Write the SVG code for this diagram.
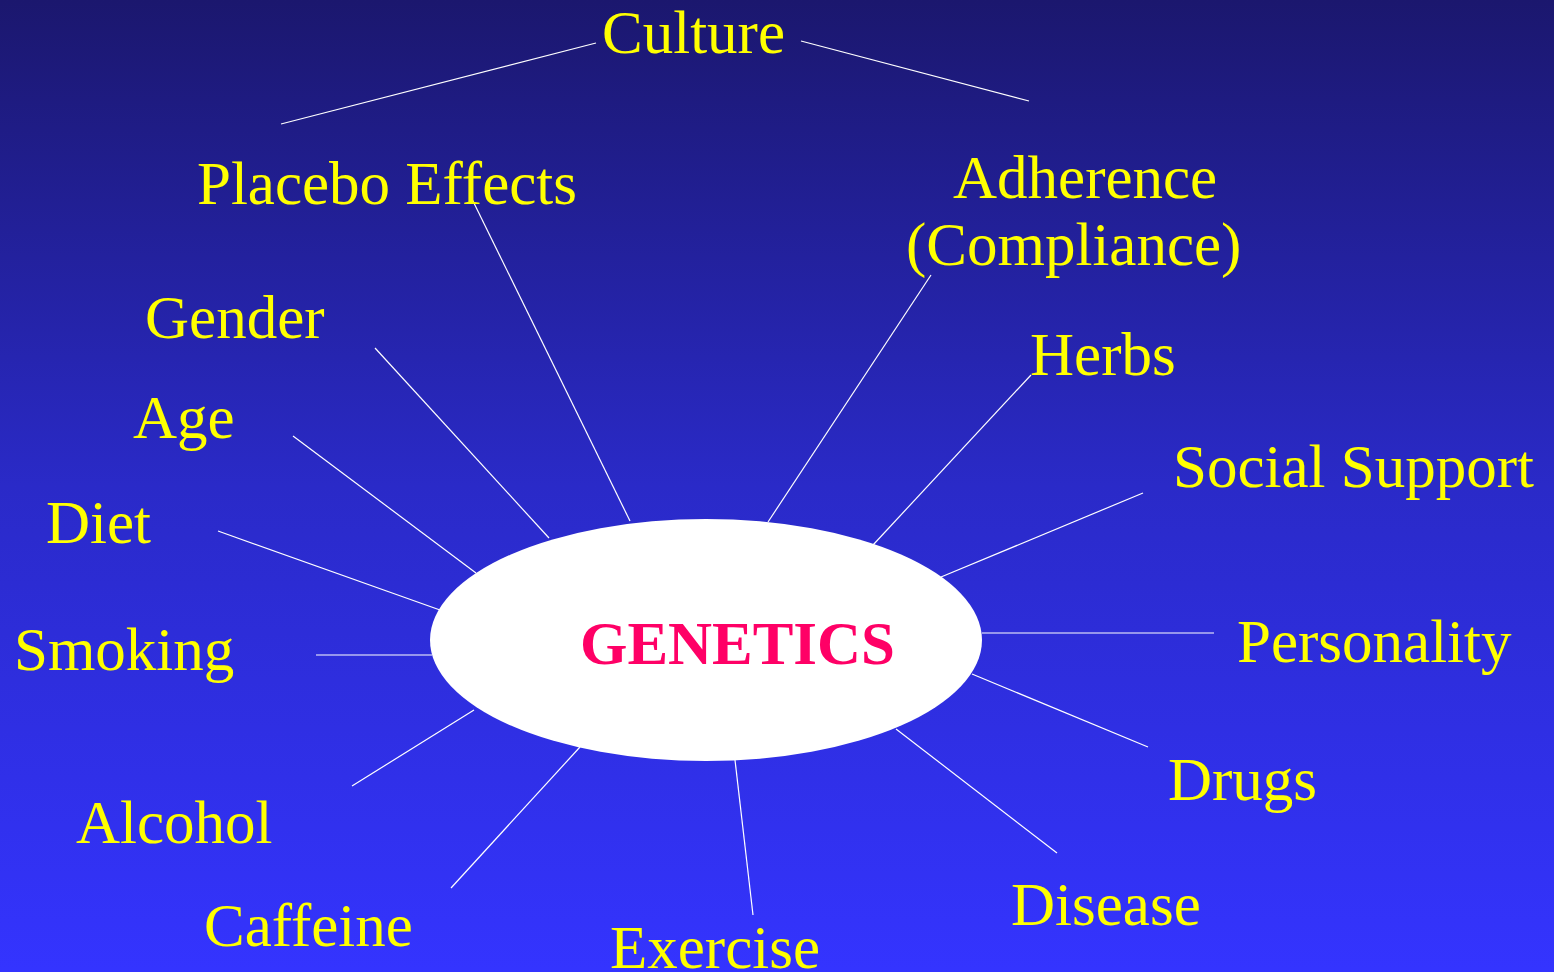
<svg xmlns="http://www.w3.org/2000/svg" width="1554" height="972" viewBox="0 0 1554 972">
<defs>
<linearGradient id="bg" x1="0" y1="0" x2="0" y2="1">
<stop offset="0" stop-color="#1b176e"/>
<stop offset="0.5" stop-color="#2a2ac8"/>
<stop offset="1" stop-color="#3434ff"/>
</linearGradient>
<style>
.lbl{font-family:"Liberation Serif","Times New Roman",serif;font-size:61px;fill:#ffff00}
.con{stroke:#ffffff;stroke-width:1.2;fill:none}
.ctr{font-family:"Liberation Serif","Times New Roman",serif;font-size:61px;font-weight:bold;fill:#ff0066}
</style>
</defs>
<rect x="0" y="0" width="1554" height="972" fill="url(#bg)"/>
<g id="connectors">
<line class="con" x1="281" y1="124" x2="596" y2="43"/>
<line class="con" x1="801" y1="41" x2="1029" y2="101"/>
<line class="con" x1="470" y1="195" x2="630" y2="521"/>
<line class="con" x1="931" y1="275" x2="768" y2="522"/>
<line class="con" x1="375" y1="348" x2="549" y2="538"/>
<line class="con" x1="1031" y1="375" x2="873" y2="545"/>
<line class="con" x1="293" y1="436" x2="476" y2="573"/>
<line class="con" x1="1143" y1="493" x2="941" y2="577"/>
<line class="con" x1="218" y1="531" x2="440" y2="610"/>
<line class="con" x1="982" y1="633" x2="1214" y2="633"/>
<line class="con" x1="316" y1="655" x2="432" y2="655"/>
<line class="con" x1="972" y1="674" x2="1148" y2="747"/>
<line class="con" x1="352" y1="786" x2="474" y2="710"/>
<line class="con" x1="896" y1="729" x2="1057" y2="853"/>
<line class="con" x1="451" y1="888" x2="580" y2="747"/>
<line class="con" x1="735" y1="760" x2="753" y2="915"/>
</g>
<g id="genetics">
<ellipse cx="706" cy="640" rx="276" ry="121" fill="#ffffff"/>
<text class="ctr" x="580" y="664" textLength="315" lengthAdjust="spacingAndGlyphs">GENETICS</text>
</g>
<g id="culture"><text class="lbl" x="602" y="53">Culture</text></g>
<g id="placebo"><text class="lbl" x="197" y="204">Placebo Effects</text></g>
<g id="adherence"><text class="lbl" x="953" y="198">Adherence</text><text class="lbl" x="906" y="265">(Compliance)</text></g>
<g id="gender"><text class="lbl" x="145" y="338">Gender</text></g>
<g id="herbs"><text class="lbl" x="1030" y="375">Herbs</text></g>
<g id="age"><text class="lbl" x="133" y="438">Age</text></g>
<g id="social"><text class="lbl" x="1173" y="487">Social Support</text></g>
<g id="diet"><text class="lbl" x="46" y="543">Diet</text></g>
<g id="smoking"><text class="lbl" x="14" y="670">Smoking</text></g>
<g id="personality"><text class="lbl" x="1237" y="662">Personality</text></g>
<g id="drugs"><text class="lbl" x="1168" y="800">Drugs</text></g>
<g id="alcohol"><text class="lbl" x="76" y="843">Alcohol</text></g>
<g id="disease"><text class="lbl" x="1011" y="925">Disease</text></g>
<g id="caffeine"><text class="lbl" x="204" y="946">Caffeine</text></g>
<g id="exercise"><text class="lbl" x="610" y="968">Exercise</text></g>
</svg>
